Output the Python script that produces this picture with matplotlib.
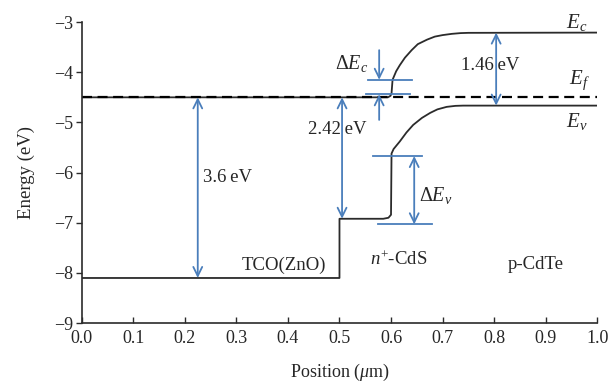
import matplotlib
matplotlib.use("Agg")
import matplotlib.pyplot as plt

plt.rcParams['font.family'] = ['Liberation Serif', 'DejaVu Serif']
plt.rcParams['mathtext.fontset'] = 'custom'
plt.rcParams['mathtext.rm'] = 'Liberation Serif'
plt.rcParams['mathtext.it'] = 'Liberation Serif:italic'
plt.rcParams['mathtext.bf'] = 'Liberation Serif:bold'

# ---- data ----
fermi_x = [0.0, 1.0]
fermi_y = [-4.5, -4.5]

ec_x = [0.0, 0.594, 0.599, 0.601, 0.603, 0.61, 0.617, 0.627, 0.64, 0.652, 0.67,
        0.685, 0.70, 0.718, 0.735, 0.75, 1.0]
ec_y = [-4.5, -4.5, -4.47, -4.42, -4.15, -3.98, -3.86, -3.71, -3.56, -3.44, -3.35,
        -3.29, -3.26, -3.235, -3.22, -3.215, -3.21]

ev_x = [0.0, 0.5, 0.5, 0.585, 0.595, 0.6, 0.601, 0.605, 0.617, 0.63, 0.643, 0.66,
        0.676, 0.69, 0.708, 0.725, 0.74, 1.0]
ev_y = [-8.1, -8.1, -6.92, -6.92, -6.90, -6.84, -5.62, -5.53, -5.38, -5.2, -5.05, -4.91,
        -4.81, -4.74, -4.69, -4.67, -4.665, -4.665]

# gap arrows: x, top, bottom, label
gap_x = [0.225, 0.505, 0.804]
gap_top = [-4.5, -4.5, -3.21]
gap_bot = [-8.1, -6.92, -4.665]
gap_labels = ["3.6\u2009eV", "2.42\u2009eV", "1.46\u2009eV"]

xticks = [0.0, 0.1, 0.2, 0.3, 0.4, 0.5, 0.6, 0.7, 0.8, 0.9, 1.0]
yticks = [-3, -4, -5, -6, -7, -8, -9]

blue = '#4a7ebb'
black = '#2b2b2b'
tcol = '#262626'

fig = plt.figure(figsize=(6.15, 3.87), dpi=100)
ax = fig.add_axes([0.133, 0.165, 0.838, 0.778])

ax.plot(ec_x, ec_y, color=black, lw=1.3, solid_capstyle='butt')
ax.plot(ev_x, ev_y, color=black, lw=1.3)
ax.plot(fermi_x, fermi_y, color='black', lw=1.6, ls=(0, (4.5, 2.5)))

arrow_kw = dict(arrowstyle='<->,head_length=0.65,head_width=0.32', color=blue, lw=1.3,
                shrinkA=0, shrinkB=0)
one_kw = dict(arrowstyle='->,head_length=0.65,head_width=0.32', color=blue, lw=1.3,
              shrinkA=0, shrinkB=0)

for gx, gt, gb in zip(gap_x, gap_top, gap_bot):
    ax.annotate('', xy=(gx, gb), xytext=(gx, gt), arrowprops=arrow_kw)

fs = 13.5
ax.text(0.235, -6.09, gap_labels[0], fontsize=fs, ha='left', va='center', color=tcol)
ax.text(0.495, -5.15, gap_labels[1], fontsize=fs, ha='center', va='center', color=tcol)
ax.text(0.792, -3.86, gap_labels[2], fontsize=fs, ha='center', va='center', color=tcol)

# Delta Ec marks
ax.plot([0.556, 0.64], [-4.15, -4.15], color=blue, lw=1.3)
ax.plot([0.552, 0.637], [-4.44, -4.44], color=blue, lw=1.3)
ax.annotate('', xy=(0.577, -4.15), xytext=(0.577, -3.56), arrowprops=one_kw)
ax.annotate('', xy=(0.577, -4.44), xytext=(0.577, -4.95), arrowprops=one_kw)
ax.text(0.556, -3.82, r'$\Delta E_c$', fontsize=14.5, ha='right', va='center', color=tcol)

# Delta Ev marks
ax.plot([0.565, 0.66], [-5.67, -5.67], color=blue, lw=1.3)
ax.plot([0.575, 0.68], [-7.03, -7.03], color=blue, lw=1.3)
ax.annotate('', xy=(0.645, -7.03), xytext=(0.645, -5.67), arrowprops=arrow_kw)
ax.text(0.655, -6.45, r'$\Delta E_v$', fontsize=14.5, ha='left', va='center', color=tcol)

# band labels
ax.text(0.96, -3.0, r'$E_c$', fontsize=15, ha='center', va='center', color=tcol)
ax.text(0.965, -4.16, r'$E_f$', fontsize=15, ha='center', va='center', color=tcol)
ax.text(0.96, -4.99, r'$E_v$', fontsize=15, ha='center', va='center', color=tcol)

ax.text(0.392, -7.84, 'TCO(ZnO)', fontsize=fs, ha='center', va='center', color=tcol)
ax.text(0.615, -7.74, r'$n^{+}$-CdS', fontsize=fs, ha='center', va='center', color=tcol)
ax.text(0.88, -7.84, 'p-CdTe', fontsize=fs, ha='center', va='center', color=tcol)

ax.set_xlim(0, 1.0)
ax.set_ylim(-9, -3)
ax.set_xticks(xticks)
ax.set_xticklabels([f"{t:.1f}" for t in xticks])
ax.set_yticks(yticks)
ax.set_yticklabels([f"\u2212{abs(t)}" for t in yticks])
ax.spines['top'].set_visible(False)
ax.spines['right'].set_visible(False)
for s in ('left', 'bottom'):
    ax.spines[s].set_color(black)
    ax.spines[s].set_linewidth(1.2)
ax.tick_params(axis='x', direction='in', length=4, width=1, colors=black, labelsize=13,
               labelcolor=tcol, pad=5)
ax.tick_params(axis='y', direction='out', length=4, width=1, colors=black, labelsize=13,
               labelcolor=tcol, pad=2)
ax.set_xlabel(r'Position ($\mu$m)', fontsize=13, labelpad=11, color=tcol)
ax.set_ylabel('Energy (eV)', fontsize=13.5, labelpad=14, color=tcol)

fig.savefig('out.png', dpi=100)
